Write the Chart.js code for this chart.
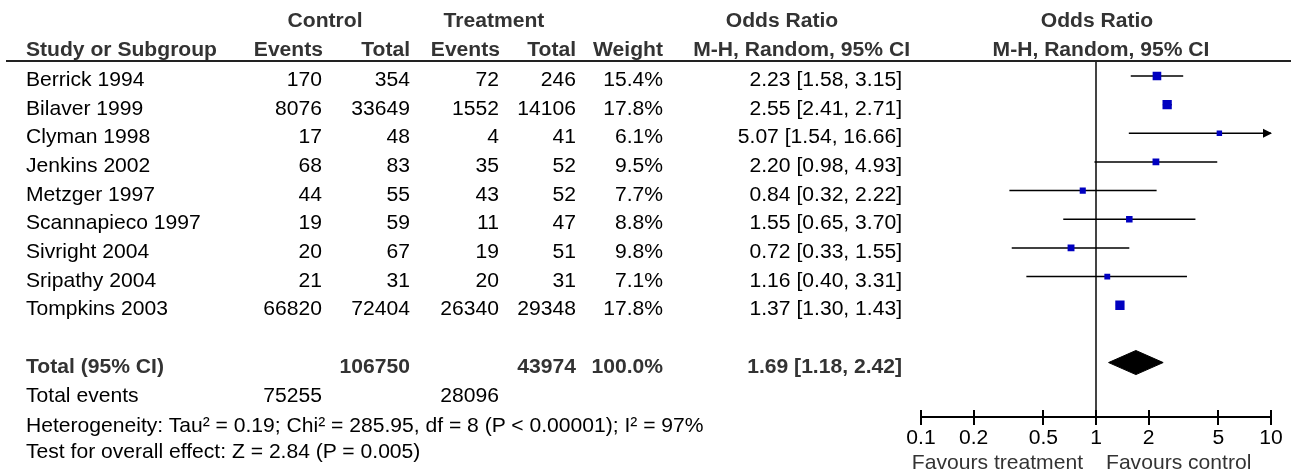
<!DOCTYPE html>
<html lang="en">
<head>
<meta charset="UTF-8" />
<title>Forest plot</title>
<script src="https://cdn.jsdelivr.net/npm/chart.js"></script>
<style>
  html, body { margin: 0; padding: 0; background: #fff; }
  #wrap {
    position: relative;
    width: 1291px;
    height: 474px;
    overflow: hidden;
    font-family: 'Liberation Sans', Arial, sans-serif;
    font-size: 21.1px;
    color: #000;
  }
  #forest { position: absolute; left: 0; top: 0; }
  .t { position: absolute; white-space: nowrap; line-height: 24px; }
  .b { font-weight: bold; color: #333; }
  .g { color: #333; }
  .rule { position: absolute; left: 6px; right: 0; top: 59.5px; height: 2px; background: #222; }
</style>
</head>
<body>
<div id="wrap">
  <canvas id="forest" width="1291" height="474"></canvas>
  <div class="rule"></div>
</div>

<script>
  const studies = ['Berrick 1994', 'Bilaver 1999', 'Clyman 1998', 'Jenkins 2002', 'Metzger 1997',
                   'Scannapieco 1997', 'Sivright 2004', 'Sripathy 2004', 'Tompkins 2003'];
  const ctrlEvents = [170, 8076, 17, 68, 44, 19, 20, 21, 66820];
  const ctrlTotal  = [354, 33649, 48, 83, 55, 59, 67, 31, 72404];
  const trtEvents  = [72, 1552, 4, 35, 43, 11, 19, 20, 26340];
  const trtTotal   = [246, 14106, 41, 52, 52, 47, 51, 31, 29348];
  const weights    = [15.4, 17.8, 6.1, 9.5, 7.7, 8.8, 9.8, 7.1, 17.8];
  const orEst  = [2.23, 2.55, 5.07, 2.20, 0.84, 1.55, 0.72, 1.16, 1.37];
  const orLow  = [1.58, 2.41, 1.54, 0.98, 0.32, 0.65, 0.33, 0.40, 1.30];
  const orHigh = [3.15, 2.71, 16.66, 4.93, 2.22, 3.70, 1.55, 3.31, 1.43];
  const pooled = [1.69, 1.18, 2.42];   // estimate, low, high
  const xTicks = [0.1, 0.2, 0.5, 1, 2, 5, 10];
  const heterogeneity = 'Heterogeneity: Tau\u00b2 = 0.19; Chi\u00b2 = 285.95, df = 8 (P < 0.00001); I\u00b2 = 97%';
  const overallTest = 'Test for overall effect: Z = 2.84 (P = 0.005)';

  const TOTAL_ROW = 10;
  const sum = a => a.reduce((s, v) => s + v, 0);
  const fmtCI = (e, l, h) => `${e.toFixed(2)} [${l.toFixed(2)}, ${h.toFixed(2)}]`;

  // CI whiskers, one small line dataset per study
  const ciSets = studies.map((s, i) => ({
    type: 'line',
    data: [{ x: orLow[i], y: i }, { x: orHigh[i], y: i }],
    borderColor: '#000',
    borderWidth: 1.5,
    pointRadius: 0,
    order: 2
  }));

  const squares = {
    type: 'scatter',
    data: orEst.map((v, i) => ({ x: v, y: i })),
    pointStyle: 'rect',
    pointRadius: weights.map(w => Math.sqrt(w) * 2.2 / Math.SQRT2),
    pointBackgroundColor: '#0000c0',
    pointBorderWidth: 0,
    order: 0
  };

  const diamond = {
    type: 'line',
    data: [
      { x: pooled[1], y: TOTAL_ROW },
      { x: pooled[0], y: TOTAL_ROW - 0.42 },
      { x: pooled[2], y: TOTAL_ROW },
      { x: pooled[0], y: TOTAL_ROW + 0.42 },
      { x: pooled[1], y: TOTAL_ROW }
    ],
    fill: 'shape',
    backgroundColor: '#000',
    borderColor: '#000',
    borderWidth: 1,
    pointRadius: 0,
    tension: 0,
    order: 1
  };

  // arrow heads for intervals running past the axis, and upper half of the tick marks
  const extras = {
    id: 'extras',
    afterDatasetsDraw(chart) {
      const { ctx, scales: { x, y } } = chart;
      ctx.save();
      ctx.fillStyle = '#000';
      orHigh.forEach((h, i) => {
        if (h <= x.max) return;
        const px = x.getPixelForValue(x.max), py = y.getPixelForValue(i);
        ctx.beginPath();
        ctx.moveTo(px + 1, py);
        ctx.lineTo(px - 8, py - 4.5);
        ctx.lineTo(px - 8, py + 4.5);
        ctx.closePath();
        ctx.fill();
      });
      ctx.restore();
    },
    afterDraw(chart) {
      const { ctx, chartArea, scales: { x } } = chart;
      ctx.save();
      ctx.strokeStyle = '#000';
      ctx.lineWidth = 2;
      xTicks.forEach(v => {
        const px = Math.round(x.getPixelForValue(v));
        ctx.beginPath();
        ctx.moveTo(px, chartArea.bottom - 7);
        ctx.lineTo(px, chartArea.bottom);
        ctx.stroke();
      });
      ctx.restore();
    }
  };

  Chart.defaults.font.family = "'Liberation Sans', Arial, sans-serif";

  const chart = new Chart(document.getElementById('forest'), {
    type: 'scatter',
    data: { datasets: [squares, diamond, ...ciSets] },
    options: {
      responsive: false,
      animation: false,
      devicePixelRatio: 1,
      events: [],
      layout: { padding: { left: 921, right: 20, top: 60.5, bottom: 0 } },
      plugins: { legend: { display: false }, tooltip: { enabled: false } },
      scales: {
        x: {
          type: 'logarithmic',
          min: 0.1,
          max: 10,
          afterBuildTicks: scale => { scale.ticks = xTicks.map(v => ({ value: v })); },
          afterFit: scale => { scale.height = 57; },
          ticks: {
            callback: v => String(v),
            autoSkip: false,
            maxRotation: 0,
            padding: 1,
            color: '#000',
            font: { size: 21.1 }
          },
          grid: {
            drawOnChartArea: true,
            drawTicks: true,
            tickLength: 8,
            lineWidth: 2,
            tickWidth: 2,
            tickColor: '#000',
            color: c => (c.tick && c.tick.value === 1) ? '#444' : 'rgba(0,0,0,0)'
          },
          border: { display: true, color: '#000', width: 2 }
        },
        y: {
          type: 'linear',
          reverse: true,
          min: -0.54,
          max: 11.9,
          display: false
        }
      }
    },
    plugins: [extras]
  });

  // table text, placed on the rows of the chart's y scale
  const wrap = document.getElementById('wrap');
  const xS = chart.scales.x, yS = chart.scales.y;
  function put(text, x, y, align, cls) {
    const d = document.createElement('div');
    d.className = 't' + (cls ? ' ' + cls : '');
    d.textContent = text;
    d.style.left = x + 'px';
    d.style.top = y + 'px';
    const tx = align === 'r' ? '-100%' : align === 'c' ? '-50%' : '0';
    d.style.transform = `translate(${tx}, -50%)`;
    wrap.appendChild(d);
  }

  const one = xS.getPixelForValue(1);

  // headers
  put('Control', 325, 20, 'c', 'b');
  put('Treatment', 494, 20, 'c', 'b');
  put('Odds Ratio', 782, 20, 'c', 'b');
  put('Odds Ratio', one + 1, 20, 'c', 'b');
  put('Study or Subgroup', 26, 48.5, 'l', 'b');
  put('Events', 323, 48.5, 'r', 'b');
  put('Total', 410, 48.5, 'r', 'b');
  put('Events', 500, 48.5, 'r', 'b');
  put('Total', 576, 48.5, 'r', 'b');
  put('Weight', 663, 48.5, 'r', 'b');
  put('M-H, Random, 95% CI', 910, 48.5, 'r', 'b');
  put('M-H, Random, 95% CI', one + 5, 48.5, 'c', 'b');

  // study rows
  studies.forEach((s, i) => {
    const y = yS.getPixelForValue(i) + 3;
    put(s, 26, y, 'l');
    put(String(ctrlEvents[i]), 322, y, 'r');
    put(String(ctrlTotal[i]), 410, y, 'r');
    put(String(trtEvents[i]), 499, y, 'r');
    put(String(trtTotal[i]), 576, y, 'r');
    put(weights[i].toFixed(1) + '%', 663, y, 'r');
    put(fmtCI(orEst[i], orLow[i], orHigh[i]), 902, y, 'r');
  });

  // total row
  const ty = yS.getPixelForValue(TOTAL_ROW) + 3;
  put('Total (95% CI)', 26, ty, 'l', 'b');
  put(String(sum(ctrlTotal)), 410, ty, 'r', 'b');
  put(String(sum(trtTotal)), 576, ty, 'r', 'b');
  put(sum(weights).toFixed(1) + '%', 663, ty, 'r', 'b');
  put(fmtCI(pooled[0], pooled[1], pooled[2]), 902, ty, 'r', 'b');

  // footer
  put('Total events', 26, 395, 'l');
  put(String(sum(ctrlEvents)), 322, 395, 'r');
  put(String(sum(trtEvents)), 499, 395, 'r');
  put(heterogeneity, 26, 424.5, 'l');
  put(overallTest, 26, 451, 'l');

  put('Favours treatment', one - 13, 462, 'r', 'g');
  put('Favours control', one + 10, 462, 'l', 'g');
</script>
</body>
</html>
